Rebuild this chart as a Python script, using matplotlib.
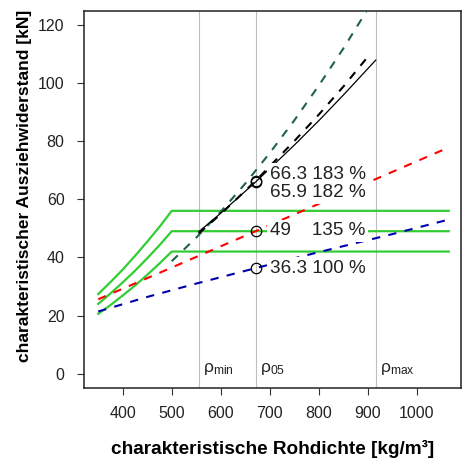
import matplotlib
matplotlib.use('Agg')
import matplotlib.pyplot as plt

# green capacity curves (quadratic up to 500 kg/m3, then constant)
X_GREEN = [350, 375, 400, 425, 450, 475, 500, 1065]
GREEN_HI = [27.4, 31.5, 35.8, 40.5, 45.4, 50.5, 56.0, 56.0]
GREEN_MID = [24.0, 27.6, 31.4, 35.4, 39.7, 44.2, 49.0, 49.0]
GREEN_LO = [20.6, 23.6, 26.9, 30.3, 34.0, 37.9, 42.0, 42.0]

X_BLUE = [350, 450, 550, 671, 800, 950, 1065]
BLUE = [21.4, 26.4, 31.0, 36.3, 41.8, 48.0, 53.0]

X_RED = [350, 500, 671, 800, 950, 1065]
RED = [25.6, 36.5, 49.0, 58.4, 69.4, 77.8]

X_DKGREEN = [500, 550, 600, 650, 700, 750, 800, 850, 900, 920]
DKGREEN = [38.7, 46.8, 55.7, 65.4, 75.9, 87.1, 99.1, 111.8, 125.4, 131.0]

X_BLACK = [555, 600, 671, 750, 800, 850, 916]
BLACK_SOLID = [48.8, 55.2, 65.9, 78.6, 87.0, 95.8, 107.8]
X_BLACK_DASH = [555, 600, 671, 750, 800, 850, 905]
BLACK_DASH = [48.2, 54.9, 66.3, 80.0, 89.1, 98.7, 110.0]

RHO = [555, 671, 916]
RHO_LABELS = ['ρ$_{\\mathrm{min}}$', 'ρ$_{\\mathrm{05}}$', 'ρ$_{\\mathrm{max}}$']

PT_X = 671
PT_Y = [66.3, 65.9, 49.0, 36.3]
LABEL_Y = [68.5, 62.2, 49.1, 36.2]
LABELS = ['66.3 183 %', '65.9 182 %', '49    135 %', '36.3 100 %']

plt.rcParams.update({'font.family': 'Liberation Sans',
                     'mathtext.fontset': 'custom',
                     'mathtext.rm': 'Liberation Sans',
                     'mathtext.it': 'Liberation Sans:italic',
                     'mathtext.bf': 'Liberation Sans:bold'})

fig = plt.figure(figsize=(4.62, 4.61), dpi=100)
ax = fig.add_axes([84 / 462, (461 - 387.7) / 461, 377 / 462, 377 / 461])

for r in RHO:
    ax.axvline(r, color='#BEBEBE', lw=0.8, zorder=1)
for r, lab in zip(RHO, RHO_LABELS):
    ax.annotate(lab, (r, 1.5), xytext=(3, 0), textcoords='offset points',
                ha='left', va='center', fontsize=12.5, color='#222222')

green = '#32CD32'
for yy in (GREEN_HI, GREEN_MID, GREEN_LO):
    ax.plot(X_GREEN, yy, color=green, lw=1.6, zorder=2)

dash = (4, 4)
ax.plot(X_BLUE, BLUE, color='#0000AA', lw=1.5, dashes=dash, zorder=3)
ax.plot(X_RED, RED, color='#FF0000', lw=1.5, dashes=dash, zorder=3)
ax.plot(X_DKGREEN, DKGREEN, color='#1E6446', lw=1.5, dashes=dash, zorder=3)
ax.plot(X_BLACK, BLACK_SOLID, color='black', lw=0.9, zorder=3)
ax.plot(X_BLACK_DASH, BLACK_DASH, color='black', lw=1.5, dashes=dash, zorder=3)

ax.plot([PT_X] * len(PT_Y), PT_Y, 'o', mfc='none', mec='black', ms=7.5,
        mew=0.9, zorder=4)
for yl, lab in zip(LABEL_Y, LABELS):
    ax.annotate(lab, (PT_X, yl), xytext=(10.5, 0), textcoords='offset points',
                ha='left', va='center', fontsize=13.6, color='#222222', zorder=5,
                bbox=dict(boxstyle='square,pad=0.15', fc='white', ec='none'))

ax.set_xlim(321, 1090)
ax.set_ylim(-4.8, 124.8)
ax.set_xticks(range(400, 1001, 100))
ax.set_yticks(range(0, 121, 20))
ax.tick_params(length=5, width=0.8, labelsize=11.5, color='#333333',
               labelcolor='#222222')
ax.tick_params(axis='x', pad=8)
ax.tick_params(axis='y', pad=9)
for s in ax.spines.values():
    s.set_linewidth(1.1)
    s.set_color('#222222')

ax.set_xlabel('charakteristische Rohdichte [kg/m³]', fontsize=13.7,
              fontweight='bold')
ax.set_ylabel('charakteristischer Ausziehwiderstand [kN]', fontsize=12.5,
              fontweight='bold')
ax.xaxis.set_label_coords(0.5, -0.139)
ax.yaxis.set_label_coords(-0.138, 0.536)

fig.savefig('out.png', dpi=100)
